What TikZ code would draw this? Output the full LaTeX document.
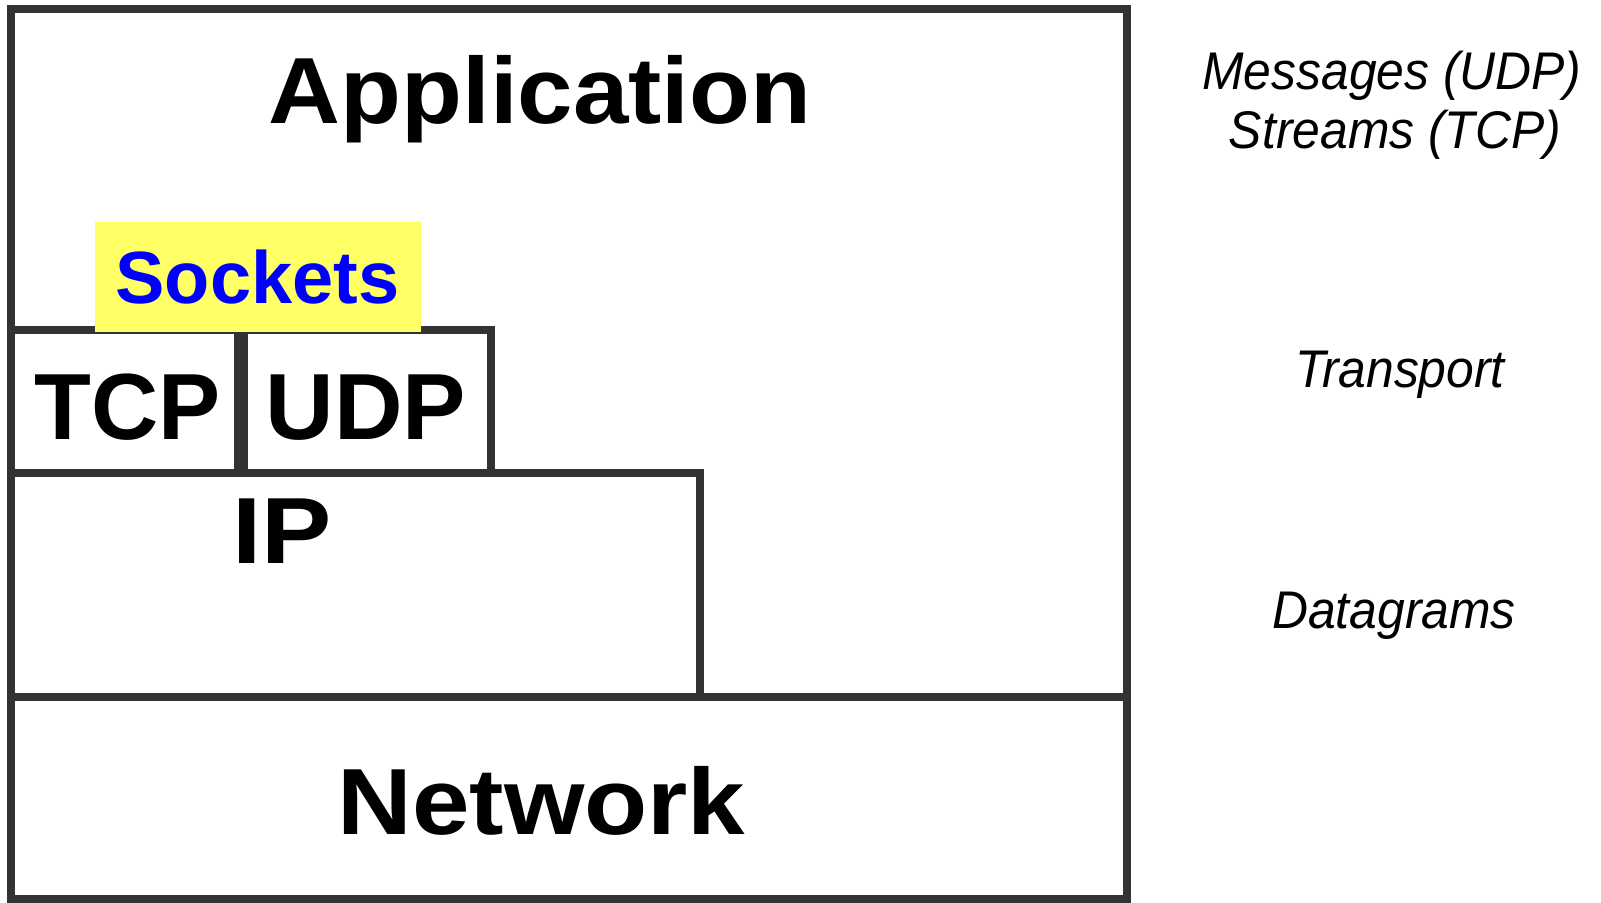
\documentclass[tikz,border=0pt]{standalone}
\usepackage{fontspec}
\setmainfont{Liberation Sans}
\definecolor{edge}{HTML}{333333}
\definecolor{sockfill}{HTML}{FFFF66}
\definecolor{sockblue}{HTML}{0000FF}
\begin{document}
\begin{tikzpicture}[x=0.5pt,y=-0.5pt,
  layer/.style={draw=edge, line width=4pt, rectangle, inner sep=0pt, outer sep=0pt,
                anchor=north west, fill=white},
  big/.style={font=\fontsize{47pt}{56pt}\selectfont\bfseries, anchor=base, inner sep=0pt},
  side/.style={font=\fontsize{26.5pt}{32pt}\selectfont\itshape, anchor=base, inner sep=0pt, xscale=0.94}]
  \useasboundingbox (0,0) rectangle (1601,903);
  % protocol stack layers
  \node[layer, minimum width=558pt, minimum height=344pt] (app) at (11,9) {};
  \node[layer, minimum width=558pt, minimum height=101pt] (net) at (11,697) {};
  \node[layer, minimum width=344.5pt, minimum height=112pt] (ip) at (11,473) {};
  \node[layer, minimum width=113.5pt, minimum height=71.5pt] (tcp) at (11,330) {};
  \node[layer, minimum width=123.5pt, minimum height=71.5pt] (udp) at (244,330) {};
  % socket interface on top of the transport layer
  \node[fill=sockfill, inner sep=0pt, outer sep=0pt, anchor=north west,
        minimum width=163pt, minimum height=55pt] (sock) at (95,222) {};
  % layer names
  \node[big, xscale=1.06] (tapp) at (540,124) {Application};
  \node[big, text=sockblue, font=\fontsize{37pt}{44pt}\selectfont\bfseries] (tsock) at (257.5,304) {Sockets};
  \node[big, xscale=0.99] (ttcp) at (127.5,440) {TCP};
  \node[big, xscale=1.01] (tudp) at (366,440) {UDP};
  \node[big, xscale=1.12] (tip) at (282,563) {IP};
  \node[big, xscale=1.1] (tnet) at (541.5,834) {Network};
  % data units per layer
  \node[side] (msg) at (1392,90) {Messages (UDP)};
  \node[side] (str) at (1395,149) {Streams (TCP)};
  \node[side] (trn) at (1400,388) {Transport};
  \node[side] (dgm) at (1394,628) {Datagrams};
\end{tikzpicture}
\end{document}
